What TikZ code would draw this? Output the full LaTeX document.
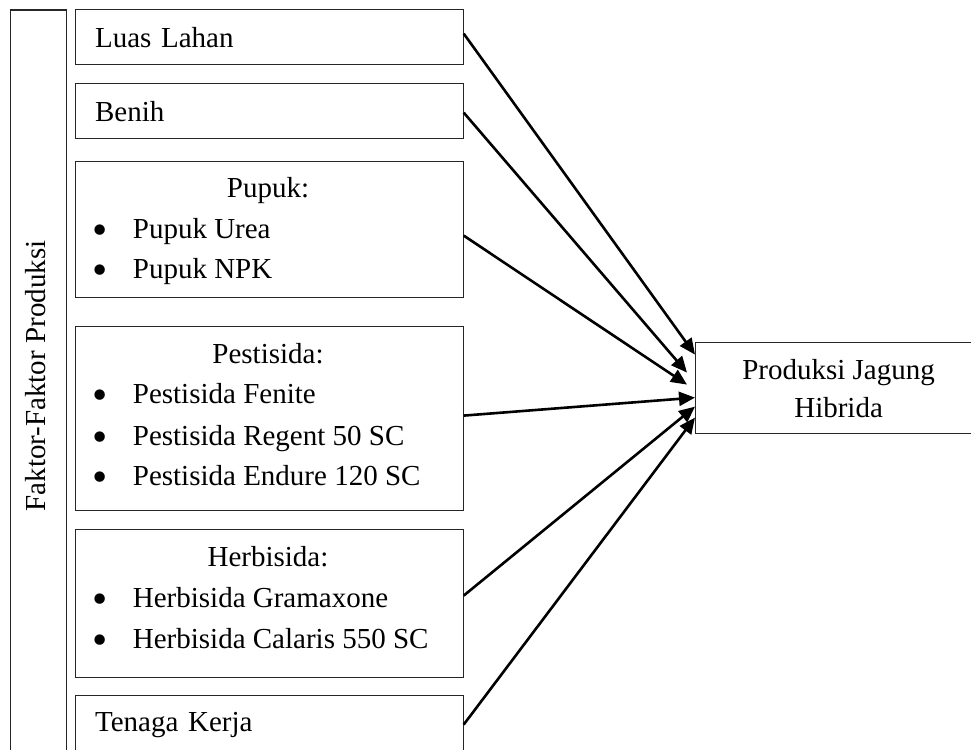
\documentclass[tikz,border=0pt]{standalone}
\usepackage{fontspec}
\usepackage{graphicx}
\setmainfont{Liberation Serif}
\usetikzlibrary{arrows.meta}
\newcommand{\bigbul}{\raisebox{-6.5pt}{\scalebox{1.5}{•}}}
\begin{document}
\begin{tikzpicture}[x=1pt,y=-1pt,
  box/.style={draw=black!85, line width=1.2pt, rectangle, anchor=north west, minimum width=388pt, inner sep=0pt},
  lbox/.style={box, text width=348pt, align=left, inner xsep=20pt, minimum height=55pt},
  txt/.style={inner sep=0pt},
  bul/.style={inner sep=0pt, anchor=base},
  item/.style={inner sep=0pt, anchor=base west},
  ttl/.style={inner sep=0pt, anchor=base},
  arr/.style={line width=2.6pt, -{Triangle[length=16pt,width=14pt]}},
  every node/.style={font=\fontsize{29}{38}\selectfont}
]
\clip (0,0) rectangle (971,749);

% left bar
\node[draw=black!85, line width=1.2pt, anchor=north west, minimum width=56pt, minimum height=770pt, inner sep=0pt] (bar) at (9.5,9.5) {};
\node[txt, rotate=90] (barlabel) at (36,376) {Faktor-Faktor Produksi};

% boxes
\node[lbox] (luas) at (74.5,9) {Luas Lahan};
\node[lbox] (benih) at (74.5,83) {Benih};

\node[box, minimum height=136pt] (pupuk) at (74.5,161) {};
\node[ttl] (pupukT) at (268,197) {Pupuk:};
\node[bul] (pb1) at (100,238) {\bigbul};
\node[item] (pi1) at (132.7,238) {Pupuk Urea};
\node[bul] (pb2) at (100,278) {\bigbul};
\node[item] (pi2) at (132.7,278) {Pupuk NPK};

\node[box, minimum height=184pt] (pest) at (74.5,326) {};
\node[ttl] (pestT) at (268,363) {Pestisida:};
\node[bul] (sb1) at (100,403) {\bigbul};
\node[item] (si1) at (132.7,403) {Pestisida Fenite};
\node[bul] (sb2) at (100,445) {\bigbul};
\node[item] (si2) at (132.7,445) {Pestisida Regent 50 SC};
\node[bul] (sb3) at (100,485) {\bigbul};
\node[item] (si3) at (132.7,485) {Pestisida Endure 120 SC};

\node[box, minimum height=148pt] (herb) at (74.5,529) {};
\node[ttl] (herbT) at (268,566) {Herbisida:};
\node[bul] (hb1) at (100,607) {\bigbul};
\node[item] (hi1) at (132.7,607) {Herbisida Gramaxone};
\node[bul] (hb2) at (100,648) {\bigbul};
\node[item] (hi2) at (132.7,648) {Herbisida Calaris 550 SC};

\node[lbox, minimum height=58pt] (tenaga) at (74.5,695) {Tenaga Kerja};

% output box
\node[box, minimum width=286pt, minimum height=91pt, align=center] (prod) at (695,342) {Produksi Jagung\\Hibrida};

% arrow ends
\coordinate (e1) at ([yshift=33.5pt]prod.west);
\coordinate (e2) at ([xshift=-8pt,yshift=15.5pt]prod.west);
\coordinate (e3) at ([xshift=-8pt,yshift=3.5pt]prod.west);
\coordinate (e4) at ([yshift=-9.5pt]prod.west);
\coordinate (e5) at ([yshift=-18.5pt]prod.west);
\coordinate (e6) at ([yshift=-29.5pt]prod.west);

\draw[arr] ([yshift=3.5pt]luas.east) -- (e1);
\draw[arr] ([yshift=-1.5pt]benih.east) -- (e2);
\draw[arr] ([yshift=-6pt]pupuk.east) -- (e3);
\draw[arr] ([yshift=3pt]pest.east) -- (e4);
\draw[arr] ([yshift=8pt]herb.east) -- (e5);
\draw[arr] (tenaga.east) -- (e6);
\end{tikzpicture}
\end{document}
